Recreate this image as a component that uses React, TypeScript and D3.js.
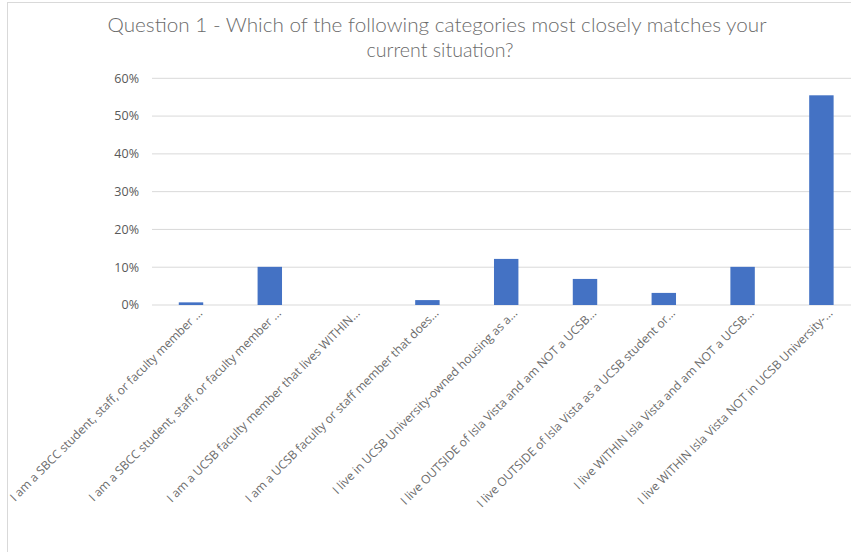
import React from "react";
import * as d3 from "d3";

const titleLines = [
  "Question 1 - Which of the following categories most closely matches your",
  "current situation?",
];

const categories = [
  "I am a SBCC student, staff, or faculty member …",
  "I am a SBCC student, staff, or faculty member …",
  "I am a UCSB faculty member that lives WITHIN…",
  "I am a UCSB faculty or staff member that does…",
  "I live in UCSB University-owned housing as a…",
  "I live OUTSIDE of Isla Vista and am NOT a UCSB…",
  "I live OUTSIDE of Isla Vista as a UCSB student or…",
  "I live WITHIN Isla Vista and am NOT a UCSB…",
  "I live WITHIN Isla Vista NOT in UCSB University-…",
];

const values = [0.007, 0.101, 0.0, 0.013, 0.122, 0.069, 0.032, 0.101, 0.555];

const yTicks = [0, 0.1, 0.2, 0.3, 0.4, 0.5, 0.6];

const W = 851;
const H = 552;

export default function App() {
  const ids = categories.map((_, i) => String(i));
  const x = d3
    .scaleBand<string>()
    .domain(ids)
    .range([151.6, 860.8])
    .paddingInner(0.69)
    .paddingOuter(0.345);
  const y = d3.scaleLinear().domain([0, 0.6]).range([305, 78.3]);
  const fmt = d3.format(".0%");
  const gray = "#595959";

  return (
    <svg
      width={W}
      height={H}
      style={{ position: "absolute", left: 0, top: 0, background: "#fff" }}
      fontFamily="'Open Sans', sans-serif"
    >
      <rect x={0} y={0} width={W} height={H} fill="#fff" />
      <rect x={7.5} y={2.5} width={W + 20} height={H + 20} fill="none" stroke="#d9d9d9" strokeWidth={1} />
      <text
        x={437}
        y={32}
        textAnchor="middle"
        fontFamily="Lato, sans-serif"
        fontWeight={300}
        fontSize={20}
        fill="#6b6b6b"
        textLength={659}
        lengthAdjust="spacingAndGlyphs"
      >
        {titleLines[0]}
      </text>
      <text
        x={440}
        y={57}
        textAnchor="middle"
        fontFamily="Lato, sans-serif"
        fontWeight={300}
        fontSize={20}
        fill="#6b6b6b"
        textLength={147}
        lengthAdjust="spacingAndGlyphs"
      >
        {titleLines[1]}
      </text>
      {yTicks.map((t) => (
        <g key={t}>
          <line x1={152} x2={W} y1={y(t)} y2={y(t)} stroke="#d9d9d9" strokeWidth={1} />
          <text x={139} y={y(t)} dy="0.35em" textAnchor="end" fontSize={12.5} fill={gray}>
            {fmt(t)}
          </text>
        </g>
      ))}
      {values.map((v, i) => (
        <rect
          key={i}
          x={x(ids[i])!}
          y={y(v)}
          width={x.bandwidth()}
          height={y(0) - y(v)}
          fill="#4472C4"
        />
      ))}
      {categories.map((c, i) => {
        const cx = x(ids[i])! + x.bandwidth() / 2;
        return (
          <text
            key={i}
            transform={`translate(${cx + 12},${314}) rotate(-45)`}
            textAnchor="end"
            fontSize={12}
            fill="#6b6b6b"
          >
            {c}
          </text>
        );
      })}
    </svg>
  );
}
